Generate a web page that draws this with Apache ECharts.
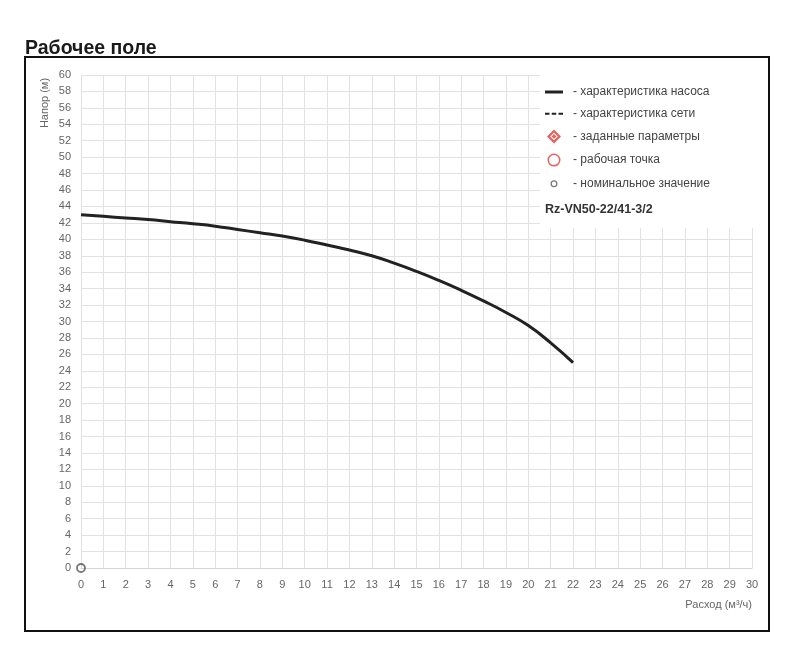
<!DOCTYPE html>
<html>
<head>
<meta charset="utf-8">
<script src="https://cdn.jsdelivr.net/npm/echarts@6/dist/echarts.min.js"></script>
<style>
html,body{margin:0;padding:0;background:#fff;}
#chart{width:800px;height:665px;}
</style>
</head>
<body>
<div id="chart"></div>
<script>
// ---- data ----
const flowValues = [0,1,2,3,4,5,6,7,8,9,10,11,12,13,14,15,16,17,18,19,20,21,22];
const headValues = [43,42.8,42.6,42.4,42.15,41.9,41.6,41.2,40.8,40.4,39.9,39.3,38.7,38.0,37.1,36.1,35.0,33.8,32.5,31.1,29.5,27.4,25];
const nominalPoint = [[0,0]];
const legendNames = ['характеристика насоса','характеристика сети','заданные параметры','рабочая точка','номинальное значение'];
const modelName = 'Rz-VN50-22/41-3/2';
const titleText = 'Рабочее поле';
const xAxisName = 'Расход (м³/ч)';
const yAxisName = 'Напор (м)';

const pumpData = flowValues.map((q,i)=>[q, headValues[i]]);

const chart = echarts.init(document.getElementById('chart'), null, {renderer:'canvas'});
const FONT = 'Liberation Sans, Arial, sans-serif';
const corners = ' M0,0h0.01v0.01h-0.01Z M14,14h0.01v0.01h-0.01Z';

const option = {
  animation:false,
  backgroundColor:'#fff',
  title:{
    text:titleText, left:20, top:34,
    textStyle:{fontFamily:FONT, fontSize:19.5, fontWeight:'bold', color:'#1a1a1a'}
  },
  grid:{left:81, right:48, top:75, bottom:97},
  xAxis:{
    type:'value', min:0, max:30, interval:1,
    axisLine:{show:true, lineStyle:{color:'#d6d6d6'}},
    axisTick:{show:false},
    axisLabel:{color:'#666', fontFamily:FONT, fontSize:11, margin:11},
    splitLine:{show:true, lineStyle:{color:'#e2e2e2', width:1}}
  },
  yAxis:{
    type:'value', min:0, max:60, interval:2,
    axisLine:{show:false},
    axisTick:{show:false},
    axisLabel:{color:'#666', fontFamily:FONT, fontSize:11, margin:10},
    splitLine:{show:true, lineStyle:{color:'#e2e2e2', width:1}}
  },
  legend:{
    orient:'vertical', left:540, top:81, z:20,
    itemWidth:18, itemHeight:14, itemGap:9.7,
    textStyle:{fontFamily:FONT, fontSize:12, color:'#444', padding:[0,0,0,5]},
    formatter: n => '- ' + n,
    data:[
      {name:legendNames[0], icon:'path://M0,0H18V3H0Z', itemStyle:{color:'#222'}},
      {name:legendNames[1], icon:'path://M0,0H4.5V2H0Z M6.75,0H11.25V2H6.75Z M13.5,0H18V2H13.5Z', itemStyle:{color:'#222'}},
      {name:legendNames[2], icon:'path://M7,0L14,7L7,14L0,7Z M7,3.2L3.2,7L7,10.8L10.8,7Z M7,4.6L9.4,7L7,9.4L4.6,7Z', itemStyle:{color:'#e53935', borderWidth:0}},
      {name:legendNames[3], icon:'path://M7,0.5A6.5,6.5 0 1,1 6.99,0.5Z M7,2A5,5 0 1,0 7.01,2Z' + corners, itemStyle:{color:'#e53935', borderWidth:0}},
      {name:legendNames[4], icon:'path://M7,3.5A3.5,3.5 0 1,1 6.99,3.5Z M7,4.8A2.2,2.2 0 1,0 7.01,4.8Z' + corners, itemStyle:{color:'#555', borderWidth:0}}
    ]
  },
  graphic:[
    {type:'rect', z:10, shape:{x:540, y:70, width:226, height:158}, style:{fill:'#fff'}},
    {type:'text', z:30, left:545, top:203, style:{text:modelName, fontFamily:FONT, fontSize:12.5, fontWeight:'bold', fill:'#333'}},
    {type:'text', z:30, x:45, y:103, rotation:Math.PI/2, style:{text:yAxisName, fontFamily:FONT, fontSize:11, fill:'#666', align:'center', verticalAlign:'middle'}},
    {type:'text', z:30, x:752, y:605, style:{text:xAxisName, fontFamily:FONT, fontSize:11, fill:'#666', align:'right', verticalAlign:'middle'}},
    {type:'rect', z:40, shape:{x:25, y:57, width:744, height:574}, style:{fill:'none', stroke:'#111', lineWidth:2}}
  ],
  series:[
    {name:legendNames[0], type:'line', data:pumpData, smooth:true, showSymbol:false, symbol:'none',
     lineStyle:{color:'#222', width:3}, itemStyle:{color:'#222'}, z:5},
    {name:legendNames[1], type:'line', data:[], symbol:'none', lineStyle:{color:'#222', type:'dashed', width:2}, itemStyle:{color:'#222'}},
    {name:legendNames[2], type:'scatter', data:[], itemStyle:{color:'#e53935'}},
    {name:legendNames[3], type:'scatter', data:[], itemStyle:{color:'#fff', borderColor:'#e53935'}},
    {name:legendNames[4], type:'scatter', data:nominalPoint, symbol:'circle', symbolSize:8,
     itemStyle:{color:'rgba(255,255,255,0)', borderColor:'#555', borderWidth:1.8}, z:6, clip:false}
  ]
};
chart.setOption(option);
</script>
</body>
</html>
